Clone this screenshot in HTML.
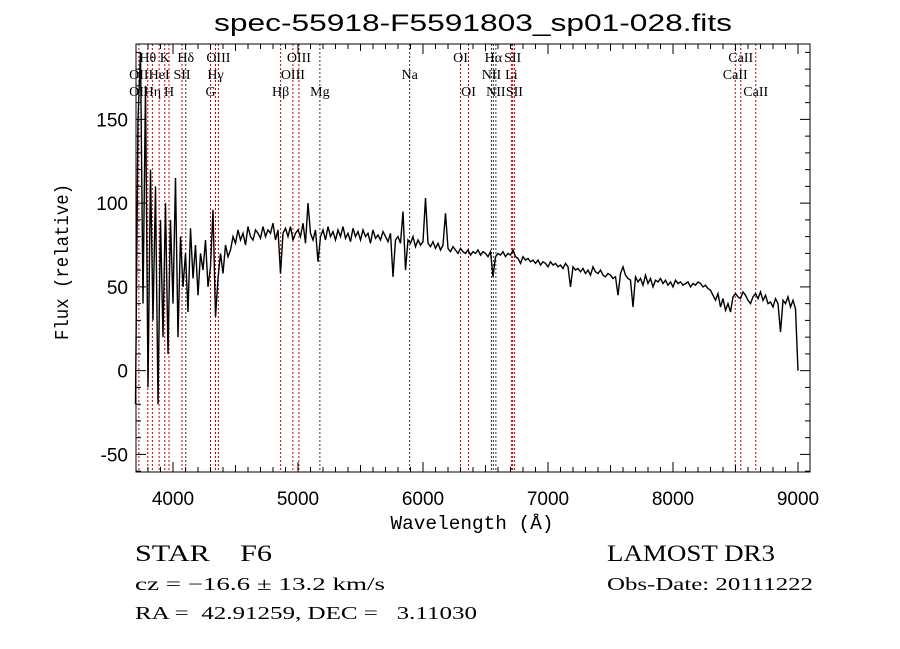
<!DOCTYPE html>
<html><head><meta charset="utf-8"><style>
html,body{margin:0;padding:0;background:#fff;}
svg{display:block;}
text{white-space:pre;}
</style></head><body>
<svg id="chart" width="900" height="649" viewBox="0 0 900 649" xmlns="http://www.w3.org/2000/svg" xml:space="preserve">
<rect width="900" height="649" fill="#fff"/>
<g id="lines-layer"></g>
<g id="series-layer"></g>
<g id="axes-layer"></g>
<g id="labels-layer"></g>
<text x="473" y="31" text-anchor="middle" font-family="Liberation Sans, sans-serif" font-size="24" textLength="518" lengthAdjust="spacingAndGlyphs">spec-55918-F5591803_sp01-028.fits</text>
<text x="472" y="529" text-anchor="middle" font-family="Liberation Mono, monospace" font-size="19" textLength="163" lengthAdjust="spacingAndGlyphs">Wavelength (Å)</text>
<text transform="translate(68,262) rotate(-90)" text-anchor="middle" font-family="Liberation Mono, monospace" font-size="19" textLength="156" lengthAdjust="spacingAndGlyphs">Flux (relative)</text>
<text x="135" y="561" font-family="Liberation Serif, serif" font-size="23" textLength="137" lengthAdjust="spacingAndGlyphs">STAR    F6</text>
<text x="607" y="561" font-family="Liberation Serif, serif" font-size="23" textLength="168" lengthAdjust="spacingAndGlyphs">LAMOST DR3</text>
<text x="135" y="590" font-family="Liberation Serif, serif" font-size="18" textLength="250" lengthAdjust="spacingAndGlyphs">cz = −16.6 ± 13.2 km/s</text>
<text x="607" y="590" font-family="Liberation Serif, serif" font-size="18" textLength="206" lengthAdjust="spacingAndGlyphs">Obs-Date: 20111222</text>
<text x="135" y="619" font-family="Liberation Serif, serif" font-size="18" textLength="342" lengthAdjust="spacingAndGlyphs">RA =  42.91259, DEC =   3.11030</text>
</svg>
<script>
const waveStart = 3700;
const waveStep = 20;
const flux = [
-20,150,190,40,170,-10,120,30,110,-20,
90,20,100,10,90,40,115,20,80,50,
70,35,85,55,75,45,70,60,78,50,
62,96,32,55,70,58,75,68,72,80,
76,84,78,82,75,86,80,78,84,82,
79,86,80,84,82,88,78,84,58,82,
85,80,86,78,82,84,80,88,76,100,
82,78,84,65,80,84,78,86,80,83,
78,84,80,86,79,82,77,85,80,83,
78,84,80,82,76,84,79,81,78,83,
80,77,82,56,78,80,76,95,60,78,
76,80,74,78,75,77,103,76,74,77,
73,76,72,75,94,73,71,74,72,70,
73,71,70,72,69,71,70,72,69,71,
70,68,71,56,68,70,69,71,68,70,
69,72,68,67,64,68,66,67,65,66,
64,66,63,65,64,62,65,63,64,62,
63,61,64,62,50,62,60,61,59,61,
58,60,57,62,59,58,60,57,56,58,
57,55,56,45,58,62,57,55,54,38,
56,53,55,51,57,52,55,50,54,53,
55,52,54,51,53,50,54,52,53,51,
52,53,50,52,51,53,52,50,51,49,
48,45,42,46,38,43,36,40,35,44,
46,44,43,47,45,42,40,44,46,43,
47,42,45,40,41,38,43,40,23,42,
40,44,38,42,37,0
];
const lineWaves = [3727,3798,3835,3889,3934,3968,4072,4102,4300,4340,4363,4861,4959,5007,5175,5893,6300,6364,6548,6563,6583,6707,6717,6731,8498,8542,8662];
const lineColorsBlack = [4102,5175,5893,6548,6563,6583];
const labelTexts = ["Hθ","K","Hδ","OIII","OIII","OI","Hα","SII","CaII",
                    "OII","HeI","SII","Hγ","OIII","Na","NII","Li","CaII",
                    "OII","Hη","H","G","Hβ","Mg","OI","NII","SII","CaII"];
const labelWaves = [3798,3934,4102,4363,5007,6300,6563,6717,8542,
                    3727,3889,4072,4340,4959,5893,6548,6707,8498,
                    3727,3835,3968,4300,4861,5175,6364,6583,6731,8662];
const labelRows = [0,0,0,0,0,0,0,0,0, 1,1,1,1,1,1,1,1,1, 2,2,2,2,2,2,2,2,2,2];
const xTicks = [4000,5000,6000,7000,8000,9000];
const yTicks = [-50,0,50,100,150];

const L=136, R=810, T=44, B=472;
const xMin=3704, xMax=9096, yMin=-60.5, yMax=195;
const X = w => L + (w - xMin) / (xMax - xMin) * (R - L);
const Y = v => B - (v - yMin) / (yMax - yMin) * (B - T);
const NS='http://www.w3.org/2000/svg';
function mk(tag, parent){const e=document.createElementNS(NS,tag);parent.appendChild(e);return e;}

const linesLayer=document.getElementById('lines-layer');
lineWaves.forEach(w=>{
  const l=mk('line',linesLayer);
  
  
  l.setAttribute('x1',X(w));l.setAttribute('x2',X(w));
  l.setAttribute('y1',T);l.setAttribute('y2',B);
  l.setAttribute('stroke',lineColorsBlack.includes(w)?'#333':'#c00000');
  l.setAttribute('stroke-width','1');
  l.setAttribute('stroke-dasharray','2,2');
});

const series=document.getElementById('series-layer');
let d='';
flux.forEach((v,i)=>{const w=waveStart+i*waveStep;d+=(i?'L':'M')+X(w).toFixed(1)+','+Math.max(T,Math.min(B,Y(v))).toFixed(1);});
const p=mk('path',series);


p.setAttribute('d',d);p.setAttribute('fill','none');p.setAttribute('stroke','#000');p.setAttribute('stroke-width','1.4');

const axes=document.getElementById('axes-layer');
const fr=mk('rect',axes);


fr.setAttribute('x',L);fr.setAttribute('y',T);fr.setAttribute('width',R-L);fr.setAttribute('height',B-T);
fr.setAttribute('fill','none');fr.setAttribute('stroke','#000');fr.setAttribute('stroke-width','1');
function tick(x1,y1,x2,y2,name){const t=mk('line',axes);
  
  
  t.setAttribute('x1',x1);t.setAttribute('y1',y1);t.setAttribute('x2',x2);t.setAttribute('y2',y2);t.setAttribute('stroke','#000');}
for(let w=3800;w<=9000;w+=100){const x=X(w);const len=(w%1000===0)?10:(w%500===0?7:5);
  tick(x,B,x,B-len,'x-tick');tick(x,T,x,T+len,'x-tick-top');}
for(let v=-60;v<=190;v+=10){const y=Y(v);const len=(v%50===0)?10:5;
  tick(L,y,L+len,y,'y-tick');tick(R,y,R-len,y,'y-tick-right');}
xTicks.forEach(w=>{const t=mk('text',axes);
  
  
  t.setAttribute('x',X(w));t.setAttribute('y',505);t.setAttribute('text-anchor','middle');
  t.setAttribute('font-family','Liberation Sans, sans-serif');t.setAttribute('font-size','19');t.textContent=w;});
yTicks.forEach(v=>{const t=mk('text',axes);
  
  
  t.setAttribute('x',128);t.setAttribute('y',Y(v)+7);t.setAttribute('text-anchor','end');
  t.setAttribute('font-family','Liberation Sans, sans-serif');t.setAttribute('font-size','19');t.textContent=v;});

const labels=document.getElementById('labels-layer');
const rowY=[62,79,96];
labelTexts.forEach((s,i)=>{const t=mk('text',labels);
  
  
  t.setAttribute('x',X(labelWaves[i]));t.setAttribute('y',rowY[labelRows[i]]);t.setAttribute('text-anchor','middle');
  t.setAttribute('font-family','Liberation Serif, serif');t.setAttribute('font-size','14');t.textContent=s;});
</script>
</body></html>
